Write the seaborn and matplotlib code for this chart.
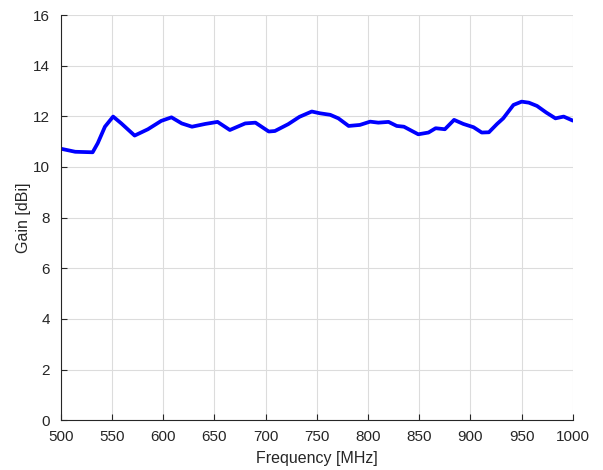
import pandas as pd
import matplotlib
matplotlib.use("Agg")
import matplotlib.pyplot as plt
import seaborn as sns

# values
freq_mhz = [500, 514, 531, 536, 543, 551, 559, 572, 585, 598, 608, 618, 628,
            641, 653, 665, 680, 690, 703, 709, 722, 733, 745, 753, 763, 771,
            781, 792, 802, 810, 820, 828, 835, 849, 859, 866, 875, 884, 893,
            903, 911, 918, 926, 932, 942, 950, 957, 965, 974, 983, 991, 1000]
gain_dbi = [10.72, 10.60, 10.58, 10.94, 11.59, 11.99, 11.72, 11.24, 11.49, 11.82,
            11.96, 11.72, 11.59, 11.70, 11.78, 11.46, 11.72, 11.75, 11.40, 11.42,
            11.69, 11.98, 12.19, 12.12, 12.06, 11.92, 11.62, 11.66, 11.79, 11.75,
            11.78, 11.62, 11.59, 11.29, 11.36, 11.53, 11.49, 11.86, 11.70, 11.57,
            11.36, 11.37, 11.70, 11.92, 12.45, 12.58, 12.54, 12.41, 12.15, 11.92,
            11.99, 11.83]
x_ticks = list(range(500, 1001, 50))
y_ticks = list(range(0, 17, 2))


def main():
    sns.set_style("whitegrid")
    plt.rcParams["font.family"] = ["Liberation Sans", "DejaVu Sans"]

    df = pd.DataFrame({"Frequency [MHz]": freq_mhz, "Gain [dBi]": gain_dbi})

    fig = plt.figure(figsize=(6.03, 4.70), dpi=100)
    ax = fig.add_axes([0.101, 0.106, 0.849, 0.862])
    sns.lineplot(data=df, x="Frequency [MHz]", y="Gain [dBi]", ax=ax,
                 color="#0000ff", linewidth=2.7)

    ax.set_xlim(500, 1000)
    ax.set_ylim(0, 16)
    ax.set_xticks(x_ticks)
    ax.set_yticks(y_ticks)
    ax.grid(True, color="#dcdcdc", linewidth=0.8)
    for side in ("top", "right"):
        ax.spines[side].set_visible(False)
    for side in ("left", "bottom"):
        ax.spines[side].set_color("#262626")
        ax.spines[side].set_linewidth(0.8)
    ax.tick_params(direction="in", length=4, width=0.8, colors="#262626",
                   labelsize=11, left=True, bottom=True)
    ax.tick_params(axis="x", pad=7)
    ax.tick_params(axis="y", pad=8)
    ax.set_xlabel("Frequency [MHz]", fontsize=11.5, color="#262626", labelpad=5)
    ax.set_ylabel("Gain [dBi]", fontsize=11.5, color="#262626", labelpad=1)

    fig.savefig("out.png", dpi=100)
    plt.close(fig)


if __name__ == "__main__":
    main()
